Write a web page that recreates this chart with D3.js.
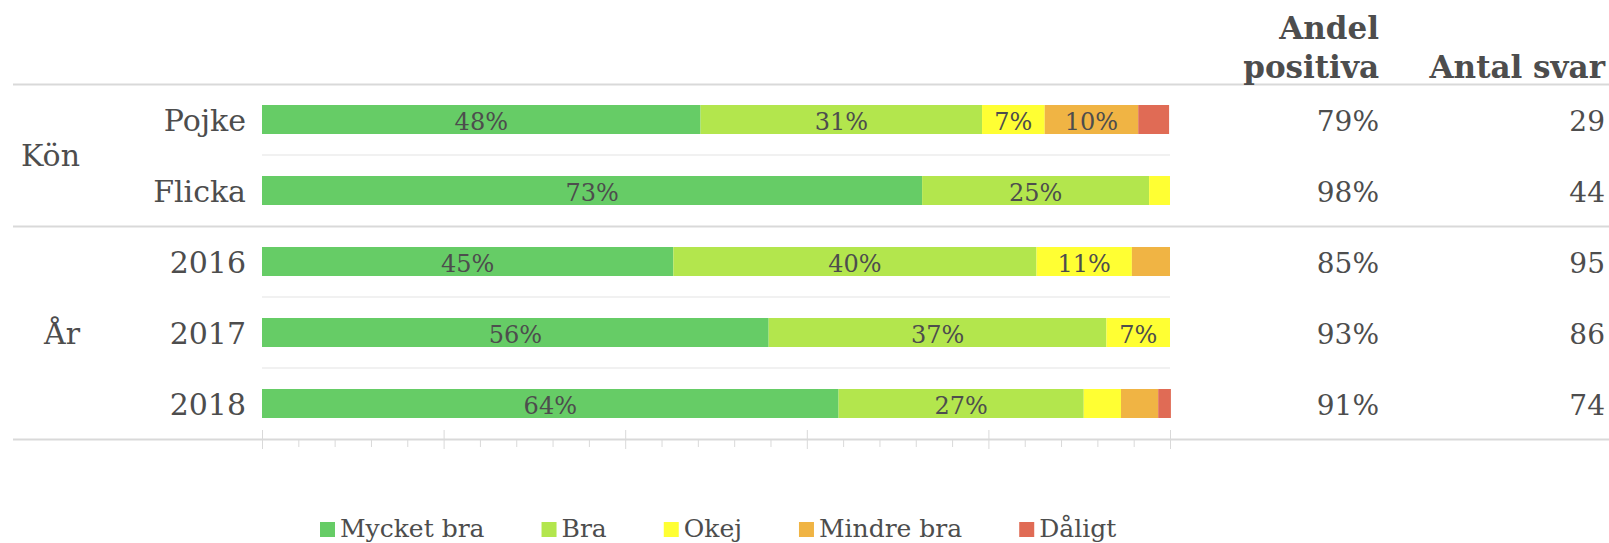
<!DOCTYPE html>
<html>
<head>
<meta charset="utf-8">
<script src="https://cdn.jsdelivr.net/npm/d3@7"></script>
<style>
  body { margin: 0; background: #fff; }
  svg { display: block; font-family: "DejaVu Serif", serif; }
</style>
</head>
<body>
<div id="chart"></div>
<script>
// ------ Data ------
const categories = ["Mycket bra", "Bra", "Okej", "Mindre bra", "Dåligt"];
const colors = ["#66cc66", "#b3e64d", "#ffff33", "#f0b444", "#e06b55"];

const rows = ["Pojke", "Flicka", "2016", "2017", "2018"];
const rowGroup = ["Kön", "Kön", "År", "År", "År"];
const groupNames = ["Kön", "År"];

// share of answers per row, in percent
const mycketBra = [48.3, 72.7, 45.3, 55.8, 63.5];
const bra       = [31.0, 25.0, 40.0, 37.2, 27.0];
const okej      = [6.9, 2.3, 10.5, 7.0, 4.1];
const mindreBra = [10.3, 0, 4.2, 0, 4.1];
const daligt    = [3.4, 0, 0, 0, 1.4];

const andelPositiva = [79, 98, 85, 93, 91];
const antalSvar = [29, 44, 95, 86, 74];

const headerAndel = ["Andel", "positiva"];
const headerAntal = "Antal svar";

const xTicksMajor = [0, 20, 40, 60, 80, 100];
const xTicksMinor = d3.range(0, 101, 4).filter(d => d % 20 !== 0);

// table for d3.stack
const series = [mycketBra, bra, okej, mindreBra, daligt];
const table = rows.map((r, i) => {
  const o = { row: r };
  categories.forEach((c, j) => o[c] = series[j][i]);
  return o;
});

// ------ Layout ------
const width = 1609, height = 543;
const textColor = "#4d4d4d";
const lineColor = "#d9d9d9";

const svg = d3.select("#chart")
  .append("svg")
  .attr("width", width)
  .attr("height", height);

const x = d3.scaleLinear().domain([0, 100]).range([262, 1170]);
const y = d3.scaleBand().domain(rows).range([84, 439]).padding(0);
const barH = 29;
const color = d3.scaleOrdinal().domain(categories).range(colors);

const stacked = d3.stack().keys(categories)(table);

// separators inside a group
const inner = rows.filter((r, i) => i < rows.length - 1 && rowGroup[i] === rowGroup[i + 1]);
svg.append("g").selectAll("line")
  .data(inner)
  .join("line")
  .attr("x1", x(0)).attr("x2", x(100))
  .attr("y1", d => y(d) + y.step()).attr("y2", d => y(d) + y.step())
  .attr("stroke", "#e3e3e3")
  .attr("stroke-width", 1);

// group separators (top, between groups, bottom)
const groupEnds = [y.range()[0]].concat(groupNames.map(g => {
  const last = rows.filter((r, i) => rowGroup[i] === g).pop();
  return y(last) + y.step();
}));
svg.append("g").selectAll("line")
  .data(groupEnds)
  .join("line")
  .attr("x1", 13).attr("x2", width)
  .attr("y1", d => d + 0.5).attr("y2", d => d + 0.5)
  .attr("stroke", lineColor)
  .attr("stroke-width", 2);

// axis ticks (no labels)
const axisMajor = svg.append("g")
  .attr("transform", `translate(0,${y.range()[1] - 9})`)
  .call(d3.axisBottom(x).tickValues(xTicksMajor).tickSize(19).tickFormat(""));
const axisMinor = svg.append("g")
  .attr("transform", `translate(0,${y.range()[1] + 1})`)
  .call(d3.axisBottom(x).tickValues(xTicksMinor).tickSize(7).tickFormat(""));
[axisMajor, axisMinor].forEach(a => {
  a.select(".domain").remove();
  a.selectAll("line").attr("stroke", lineColor);
});

// bars
const layers = svg.append("g").selectAll("g")
  .data(stacked)
  .join("g")
  .attr("fill", d => color(d.key));

layers.selectAll("rect")
  .data(d => d)
  .join("rect")
  .attr("x", d => x(d[0]))
  .attr("y", d => y(d.data.row) + (y.bandwidth() - barH) / 2)
  .attr("width", d => x(d[1]) - x(d[0]))
  .attr("height", barH);

// value labels
layers.selectAll("text")
  .data(d => d.filter(s => s[1] - s[0] >= 5))
  .join("text")
  .attr("x", d => (x(d[0]) + x(d[1])) / 2)
  .attr("y", d => y(d.data.row) + y.bandwidth() / 2)
  .attr("dy", "0.42em")
  .attr("text-anchor", "middle")
  .attr("fill", textColor)
  .style("font-size", "24px")
  .text(d => Math.round(d[1] - d[0]) + "%");

// row labels
svg.append("g").selectAll("text")
  .data(rows)
  .join("text")
  .attr("x", 246)
  .attr("y", d => y(d) + y.bandwidth() / 2)
  .attr("dy", "0.38em")
  .attr("text-anchor", "end")
  .attr("fill", textColor)
  .style("font-size", "30px")
  .text(d => d);

// group labels
svg.append("g").selectAll("text")
  .data(groupNames)
  .join("text")
  .attr("x", 80)
  .attr("y", g => {
    const rs = rows.filter((r, i) => rowGroup[i] === g);
    return (y(rs[0]) + y(rs[rs.length - 1]) + y.bandwidth()) / 2;
  })
  .attr("dy", "0.38em")
  .attr("text-anchor", "end")
  .attr("fill", textColor)
  .style("font-size", "30px")
  .text(d => d);

// right columns
const colAndel = 1379, colAntal = 1605;

svg.append("g").selectAll("text")
  .data(andelPositiva)
  .join("text")
  .attr("x", colAndel)
  .attr("y", (d, i) => y(rows[i]) + y.bandwidth() / 2)
  .attr("dy", "0.4em")
  .attr("text-anchor", "end")
  .attr("fill", textColor)
  .style("font-size", "28px")
  .text(d => d + "%");

svg.append("g").selectAll("text")
  .data(antalSvar)
  .join("text")
  .attr("x", colAntal)
  .attr("y", (d, i) => y(rows[i]) + y.bandwidth() / 2)
  .attr("dy", "0.4em")
  .attr("text-anchor", "end")
  .attr("fill", textColor)
  .style("font-size", "28px")
  .text(d => d);

// headers
const hdr = svg.append("g")
  .attr("fill", textColor)
  .style("font-size", "31px")
  .style("font-weight", "bold")
  .attr("text-anchor", "end");
hdr.selectAll("text.andel")
  .data(headerAndel)
  .join("text")
  .attr("class", "andel")
  .attr("x", colAndel)
  .attr("y", (d, i) => 39 + i * 39)
  .text(d => d);
hdr.append("text")
  .attr("x", colAntal)
  .attr("y", 78)
  .text(headerAntal);

// legend
const legend = svg.append("g")
  .attr("transform", "translate(320,537)");
let lx = 0;
categories.forEach((c, i) => {
  const item = legend.append("g").attr("transform", `translate(${lx},0)`);
  item.append("rect")
    .attr("x", 0).attr("y", -15)
    .attr("width", 15).attr("height", 15)
    .attr("fill", color(c));
  const t = item.append("text")
    .attr("x", 20)
    .attr("y", 0)
    .attr("fill", textColor)
    .style("font-size", "25px")
    .text(c);
  lx += 20 + t.node().getComputedTextLength() + 57;
});
</script>
</body>
</html>
